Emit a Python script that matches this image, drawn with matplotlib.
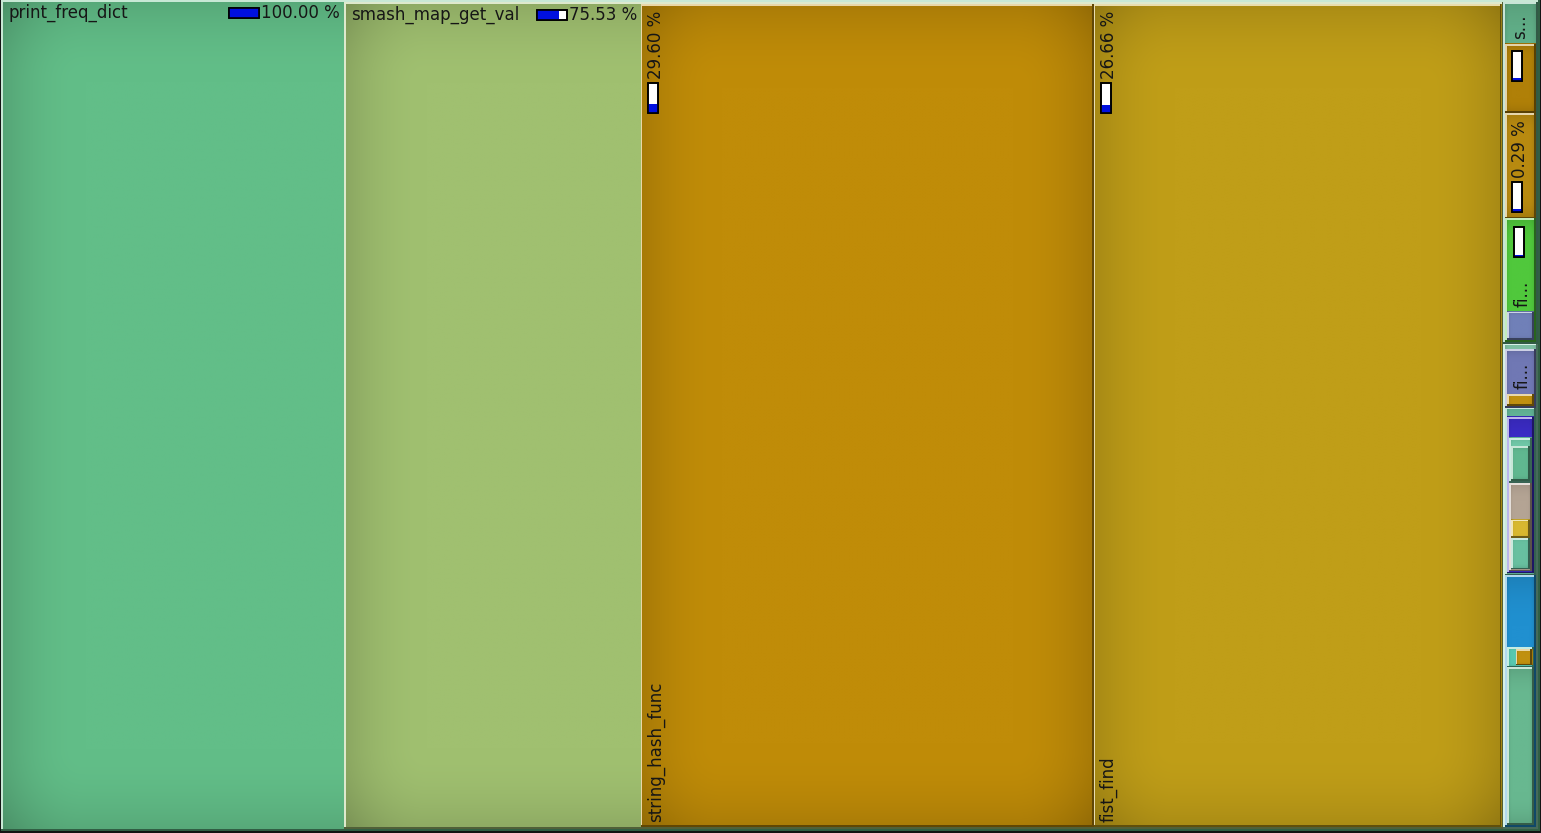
import numpy as np
import matplotlib
matplotlib.use('Agg')
import matplotlib.pyplot as plt
from matplotlib.patches import Rectangle
from matplotlib.colors import to_rgb

# call-map data: inclusive cost (%) of each function block and its caller
node_ids = ['print_freq_dict', 'smash_map_get_val', 'string_hash_func', 'fist_find',
            's_grp', 's_a', 's_b', 's_fi', 's_fi_c',
            'f_grp', 'f_fi', 'f_fi_c', 'f_t', 'f_d', 'f_d_t', 'f_d_t_c',
            'f_d_p', 'f_d_p_y', 'f_d_p_t', 'f_bb', 'f_bb_o', 'f_bb_o_c', 'f_bb_t']
node_parent = [None, 'print_freq_dict', 'smash_map_get_val', 'smash_map_get_val',
               'print_freq_dict', 's_grp', 's_grp', 's_grp', 's_fi',
               'print_freq_dict', 'f_grp', 'f_fi', 'f_grp', 'f_t', 'f_d', 'f_d_t',
               'f_d', 'f_d_p', 'f_d_p', 'f_grp', 'f_bb', 'f_bb_o', 'f_bb']
node_cost = [100.00, 75.53, 29.60, 26.66,
             0.93, 0.19, 0.29, 0.34, 0.08,
             1.32, 0.16, 0.035, 0.46, 0.44, 0.13, 0.11,
             0.255, 0.055, 0.095, 0.69, 0.055, 0.04, 0.44]
node_color = ['#62BE88', '#A0C070', '#C08C08', '#C09E18',
              '#64B48C', '#B08008', '#B88A10', '#50C83C', '#7080B8',
              '#8CD4B4', '#7078B4', '#C09010', '#68C0A0', '#3C2CC8', '#70C8A8', '#60B890',
              '#B4A494', '#D8B830', '#68C0A0', '#2090D0', '#58C8B0', '#C09010', '#68B890']
node_label = ['print_freq_dict', 'smash_map_get_val', 'string_hash_func', 'fist_find',
              's...', '', '', 'fi...', '',
              '', 'fi...', '', '', '', '', '',
              '', '', '', '', '', '', '']
node_show_pct = ['print_freq_dict', 'smash_map_get_val', 'string_hash_func', 'fist_find', 's_b']
node_show_bar = ['print_freq_dict', 'smash_map_get_val', 'string_hash_func', 'fist_find',
                 's_a', 's_b', 's_fi']

W, H = 1541, 833
PAD = 2
FS = 12

idx = {n: i for i, n in enumerate(node_ids)}
children = {n: [] for n in node_ids}
for n, p in zip(node_ids, node_parent):
    if p is not None:
        children[p].append(n)

fig = plt.figure(figsize=(W/100., H/100.), dpi=100)
fig.patch.set_facecolor('#141414')
ax = fig.add_axes([0, 0, 1, 1])
ax.set_xlim(0, W)
ax.set_ylim(H, 0)
ax.axis('off')


def cushion(w, h):
	nx = int(max(2, min(w, 300)))
	ny = int(max(2, min(h, 300)))
	xs = np.linspace(0, w, nx)
	ys = np.linspace(0, h, ny)
	bx = max(1., min(0.2*w, 80.))
	by = max(1., min(0.2*h, 80.))
	sx = np.clip(np.minimum(xs, w - xs)/bx, 0, 1)
	sy = np.clip(np.minimum(ys, h - ys)/by, 0, 1)
	sx = sx*(2 - sx)
	sy = sy*(2 - sy)
	return 1. - 0.13*(1 - sx)[None, :] - 0.11*(1 - sy)[:, None]


def draw_box(n, x, y, w, h, depth):
	c = np.array(to_rgb(node_color[idx[n]]))
	img = np.clip(cushion(w, h)[:, :, None]*c[None, None, :], 0, 1)
	ax.imshow(img, extent=(x, x + w, y + h, y), origin='upper', aspect='auto',
	          interpolation='bilinear', zorder=depth)
	light = c + (1 - c)*0.65
	dark = c*0.5
	lw = 1.6
	ax.add_patch(Rectangle((x, y), w, lw, color=light, lw=0, zorder=depth + 0.1))
	ax.add_patch(Rectangle((x, y), lw, h, color=light, lw=0, zorder=depth + 0.1))
	ax.add_patch(Rectangle((x, y + h - lw), w, lw, color=dark, lw=0, zorder=depth + 0.1))
	ax.add_patch(Rectangle((x + w - lw, y), lw, h, color=dark, lw=0, zorder=depth + 0.1))


renderer = fig.canvas.get_renderer()
inv = ax.transData.inverted()


def text_box(t):
	bb = t.get_window_extent(renderer)
	(x0, y0), (x1, y1) = inv.transform([[bb.x0, bb.y0], [bb.x1, bb.y1]])
	return min(x0, x1), min(y0, y1), max(x0, x1), max(y0, y1)


def pct_bar(x, y, w, h, frac, vertical, z):
	ax.add_patch(Rectangle((x, y), w, h, facecolor='white', edgecolor='black', lw=1.2, zorder=z))
	if vertical:
		fh = max(h*frac, 2.5)
		ax.add_patch(Rectangle((x, y + h - fh), w, fh, facecolor='#0010E0', lw=0, zorder=z + 0.05))
	else:
		ax.add_patch(Rectangle((x, y), max(w*frac, 2.5), h, facecolor='#0010E0', lw=0, zorder=z + 0.05))
	ax.add_patch(Rectangle((x, y), w, h, facecolor='none', edgecolor='black', lw=1.2, zorder=z + 0.1))


def draw_label(n, x, y, w, h, depth):
	z = depth + 0.5
	name = node_label[idx[n]]
	cost = node_cost[idx[n]]
	show_pct = n in node_show_pct
	show_bar = n in node_show_bar
	pct = '%.2f %%' % cost
	tk = dict(fontsize=FS, color='#161616', family='DejaVu Sans', zorder=z)
	# blocks with callees keep the label on top, tall leaves get it rotated
	horizontal = bool(children[n]) and w > 120
	if horizontal:
		if name:
			ax.text(x + 5, y + 2, name, ha='left', va='top', **tk)
		if show_pct:
			t = ax.text(x + w - 4, y + 2, pct, ha='right', va='top', **tk)
			bx0, by0, bx1, by1 = text_box(t)
			if show_bar:
				pct_bar(bx0 - 32, y + 6, 30, 10, cost/100., False, z)
	else:
		top = y + 7
		if show_pct:
			t = ax.text(x + 6, top, pct, ha='left', va='top', rotation=90, **tk)
			bx0, by0, bx1, by1 = text_box(t)
			top = by1 + 4
		if show_bar:
			pct_bar(x + 7, top, 10, 30, cost/100., True, z)
		if name:
			ax.text(x + 6, y + h - 5, name, ha='left', va='bottom', rotation=90, **tk)


def place(n, x, y, w, h, depth):
	draw_box(n, x, y, w, h, depth)
	kids = children[n]
	total = node_cost[idx[n]]
	if not kids:
		draw_label(n, x, y, w, h, depth)
		return
	items = [(None, total - sum(node_cost[idx[k]] for k in kids))]
	items += [(k, node_cost[idx[k]]) for k in kids]
	ix, iy, iw, ih = x + PAD, y + PAD, w - 2*PAD, h - 2*PAD
	rest = total
	for k, c in items:
		if iw >= ih:
			dw = iw*c/rest
			sub = (ix, iy, dw, ih)
			ix += dw
			iw -= dw
		else:
			dh = ih*c/rest
			sub = (ix, iy, iw, dh)
			iy += dh
			ih -= dh
		rest -= c
		if k is None:
			draw_label(n, sub[0], sub[1], sub[2], sub[3], depth + 1)
		else:
			place(k, sub[0], sub[1], sub[2], sub[3], depth + 1)


place('print_freq_dict', 1, 0, W - 2, H - 2, 1)

fig.savefig('out.png', dpi=100, facecolor=fig.get_facecolor())
